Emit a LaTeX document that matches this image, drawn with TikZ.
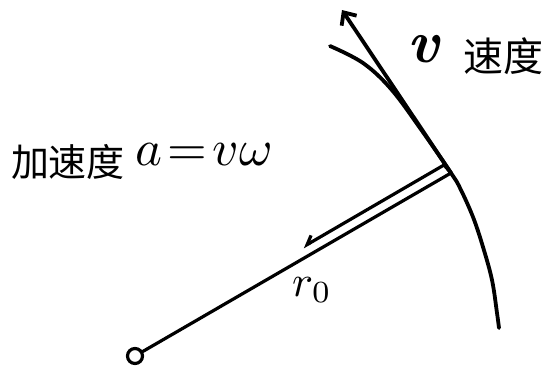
\documentclass[tikz,border=0pt]{standalone}
\usepackage{graphicx}
\usepackage{fontspec}
\newfontfamily\cjk{Noto Sans CJK SC}
\usetikzlibrary{arrows.meta}
\begin{document}
\begin{tikzpicture}[x=1pt,y=-1pt,line cap=round,line join=round,
  stroke/.style={line width=3.8pt},
  thin stroke/.style={line width=3.2pt},
  lbl/.style={inner sep=0pt,outer sep=0pt}]
\useasboundingbox (0,0) rectangle (547,368);
% points
\coordinate (P) at (451,173);
\coordinate (T) at (342,10);
\coordinate (A1) at (444,165);
\coordinate (A2) at (303,247);
\node[circle,draw,thin stroke,minimum size=15pt,inner sep=0pt] (O) at (135,356) {};
% arc (path of the moving point)
\draw[stroke] plot[smooth,tension=0.6] coordinates
  {(330,46) (363,63) (391,89) (420,128) (P) (460,188) (473,217) (483,247) (492,280) (497,313) (499,328)};
% velocity (tangent)
\draw[stroke,-{Straight Barb[length=10pt,width=18pt]}] (P) -- (T);
% radius
\draw[thin stroke] (P) -- (O);
% acceleration arrow (parallel to radius)
\draw[thin stroke] (P) -- (A1);
\draw[thin stroke,-{Straight Barb[right,length=8pt,width=12pt]}] (A1) -- (A2);
% labels
\node[lbl] (v) at (423,49) {\scalebox{6}{\bfseries\itshape v}};
\node[lbl,anchor=west] (vel) at (463,56) {\fontsize{40}{48}\selectfont\cjk 速度};
\node[lbl,anchor=west] (acc) at (11,162) {\fontsize{38}{46}\selectfont\cjk 加速度};
\node[lbl,anchor=west] (f) at (135,155) {\scalebox{5.1}{$a\!=\!v\omega$}};
\node[lbl] (r) at (312,290) {\scalebox{4.4}{$r_0$}};
\end{tikzpicture}
\end{document}
